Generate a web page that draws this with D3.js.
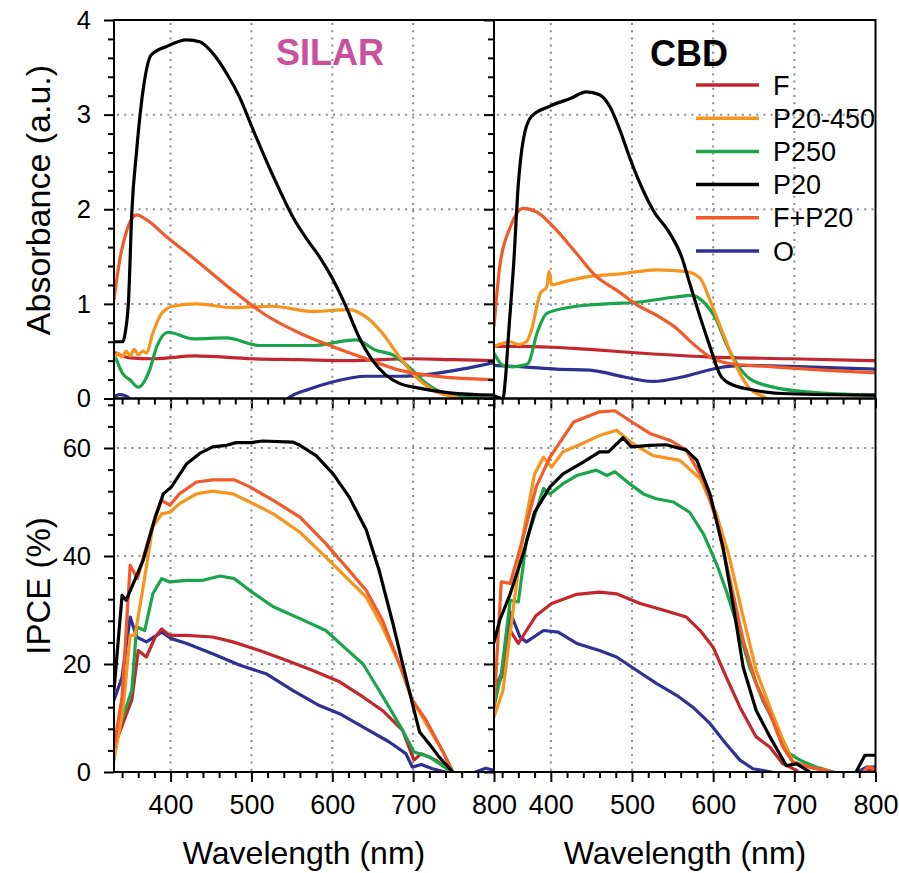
<!DOCTYPE html>
<html><head><meta charset="utf-8">
<script src="https://cdn.jsdelivr.net/npm/d3@7"></script>
<style>body{margin:0;background:#fff} svg{display:block} text{font-family:"Liberation Sans",Arial,Helvetica,sans-serif}</style>
</head><body><svg id="c" width="899" height="873"></svg>
<script>
// ---------- tick labels / categories ----------
const wavelengthTicks = [400, 500, 600, 700, 800];
const absorbanceTicks = [0, 1, 2, 3, 4];
const ipceTicks = [0, 20, 40, 60];
const seriesNames = ["F", "P20-450", "P250", "P20", "F+P20", "O"];
const panelTitles = ["SILAR", "CBD"];

// ---------- SILAR absorbance ----------
const absSilarF = [[330,0.49],[340,0.45],[350,0.43],[380,0.42],[430,0.45],[500,0.42],[560,0.41],[620,0.40],[700,0.42],[750,0.41],[800,0.40]];
const absSilarP20_450 = [[330,0.42],[335,0.48],[340,0.44],[345,0.50],[350,0.45],[355,0.52],[360,0.46],[366,0.50],[370,0.48],[378,0.69],[389,0.90],[403,0.975],[432,1.0],[477,0.96],[526,0.975],[576,0.92],[621,0.94],[642,0.86],[662,0.69],[683,0.44],[703,0.23],[724,0.09],[757,0.0],[780,-0.05],[800,-0.08]];
const absSilarP250 = [[330,0.48],[341,0.26],[350,0.195],[360,0.12],[374,0.30],[383,0.55],[397,0.70],[428,0.63],[469,0.64],[510,0.56],[576,0.56],[629,0.62],[654,0.51],[675,0.46],[695,0.33],[716,0.16],[740,0.05],[770,0.01],[800,0.0]];
const absSilarP20 = [[330,0.6],[341,0.6],[344,0.7],[348,1.04],[352,1.96],[358,2.62],[366,3.26],[376,3.63],[395,3.72],[420,3.79],[436,3.77],[452,3.65],[469,3.44],[485,3.19],[502,2.84],[518,2.52],[535,2.20],[551,1.92],[568,1.69],[584,1.50],[600,1.27],[617,0.97],[633,0.65],[650,0.40],[666,0.25],[683,0.16],[707,0.11],[745,0.06],[800,0.035]];
const absSilarFP20 = [[330,1.04],[337,1.46],[346,1.78],[358,1.94],[370,1.89],[395,1.71],[436,1.43],[477,1.14],[518,0.88],[560,0.69],[600,0.55],[642,0.42],[683,0.30],[724,0.24],[800,0.20]];
const absSilarO = [[330,0.02],[337,0.04],[344,0.03],[349,0.0],[355,-0.1],[540,-0.1],[545,0.0],[572,0.10],[600,0.175],[642,0.235],[683,0.235],[724,0.26],[760,0.31],[800,0.38]];

// ---------- CBD absorbance ----------
const absCbdF = [[330,0.55],[366,0.55],[428,0.53],[510,0.48],[592,0.44],[694,0.42],[800,0.40]];
const absCbdP20_450 = [[330,0.55],[340,0.58],[350,0.60],[360,0.57],[370,0.60],[376,0.72],[387,1.11],[395,1.18],[398,1.34],[401,1.20],[415,1.23],[448,1.29],[489,1.32],[530,1.36],[567,1.34],[584,1.27],[596,1.04],[612,0.69],[629,0.33],[645,0.105],[666,0.0],[680,-0.1],[800,-0.1]];
const absCbdP250 = [[330,0.48],[341,0.35],[354,0.335],[365,0.35],[372,0.37],[383,0.69],[395,0.90],[428,0.97],[469,1.0],[510,1.02],[551,1.07],[575,1.09],[588,1.02],[604,0.83],[616,0.58],[629,0.37],[645,0.21],[674,0.12],[715,0.07],[800,0.035]];
const absCbdP20 = [[330,0.03],[341,0.0],[344,0.2],[348,0.69],[354,1.39],[360,2.27],[366,2.73],[376,2.98],[399,3.09],[424,3.17],[444,3.24],[460,3.21],[473,3.08],[485,2.84],[497,2.55],[510,2.27],[526,1.99],[547,1.74],[561,1.50],[571,1.22],[584,0.86],[596,0.55],[608,0.26],[620,0.16],[649,0.09],[694,0.05],[800,0.035]];
const absCbdFP20 = [[330,0.76],[337,1.39],[350,1.81],[366,2.01],[383,1.97],[407,1.78],[432,1.53],[456,1.29],[481,1.145],[506,0.99],[530,0.88],[555,0.74],[575,0.58],[596,0.44],[620,0.37],[674,0.335],[735,0.30],[800,0.27]];
const absCbdO = [[330,0.35],[366,0.335],[407,0.31],[448,0.30],[489,0.23],[526,0.18],[563,0.23],[604,0.32],[637,0.35],[694,0.34],[800,0.31]];

// ---------- SILAR IPCE ----------
const ipceSilarF = [[330,4.6],[341,9],[352,13.3],[360,22.5],[370,21.3],[381,25],[389,26.5],[399,25.3],[420,25.3],[452,25],[477,24.1],[510,22.5],[543,20.7],[576,18.8],[609,16.7],[638,13.9],[662,11.4],[687,7.7],[701,2.2],[710,3.4],[728,2.2],[745,0.3],[750,-1]];
const ipceSilarP20_450 = [[330,2.2],[341,11.4],[350,25.3],[356,25.3],[364,32.4],[378,45.4],[389,47.8],[399,48.1],[411,49.7],[432,51.5],[452,52],[477,51.5],[498,50],[527,47.8],[560,44.4],[592,39.8],[621,35.5],[642,32.4],[662,26.9],[683,20],[699,13.3],[716,9],[736,4.0],[749,0],[752,-1]];
const ipceSilarP250 = [[330,5.2],[341,10.2],[352,15.1],[358,26.9],[368,26.2],[378,33],[389,35.8],[399,35.2],[420,35.5],[440,35.5],[461,36.3],[479,35.8],[498,33.6],[527,30.6],[560,28.4],[592,26.2],[617,22.8],[638,20],[658,15.1],[675,10.8],[687,7.7],[701,3.7],[720,2.8],[745,0.3],[750,-1]];
const ipceSilarP20 = [[330,15.1],[340,32.7],[345,31.8],[366,39.2],[381,47.2],[391,51.5],[401,52.8],[420,57.1],[436,59],[452,60.2],[469,60.5],[481,61],[500,61],[514,61.3],[551,61.1],[560,60.5],[580,58.6],[601,55.2],[621,50.9],[642,44.8],[658,37.3],[675,27.5],[687,20],[699,12.7],[708,7.4],[720,5.2],[732,2.8],[749,0],[752,-1]];
const ipceSilarFP20 = [[330,4.6],[340,13.9],[350,38.3],[359,35.8],[370,41.7],[381,47.2],[389,50.3],[399,49.4],[411,51.5],[432,53.7],[452,54.1],[479,54.1],[498,52.8],[527,50.3],[560,47.2],[592,42.3],[621,37.3],[642,33.6],[662,28.1],[683,20],[699,13.3],[716,9.6],[736,4.0],[749,0],[752,-1]];
const ipceSilarO = [[330,13.3],[340,17.6],[350,28.7],[358,25],[370,24.1],[389,25.9],[401,24.7],[420,23.8],[452,21.9],[485,19.8],[518,18.2],[551,15.1],[584,12.3],[609,10.8],[642,8.0],[670,5.6],[691,3.4],[699,0.9],[710,1.4],[724,0.6],[740,0],[745,-1],[772,-1],[777,0],[790,0.7],[800,0.3]];

// ---------- CBD IPCE ----------
const ipceCbdF = [[330,15.1],[341,18.8],[350,26.2],[360,23.8],[370,26.2],[382,29],[401,31.2],[432,32.9],[460,33.3],[481,33],[510,31.2],[534,30.2],[567,28.7],[584,26.2],[600,23.1],[616,17.6],[633,12],[653,6.5],[670,4.6],[686,1.5],[703,0.3],[708,-1],[780,-1],[788,0.5],[800,0.4]];
const ipceCbdP20_450 = [[330,10.2],[341,15.1],[354,30.6],[366,44.1],[380,55.2],[391,58.3],[401,56.5],[415,59.3],[434,60.5],[460,62.3],[481,63.3],[501,60.8],[526,58.6],[559,57.7],[584,54.3],[604,47.8],[620,39.8],[637,28.7],[653,18.8],[670,12],[686,5.9],[698,1.9],[720,0.8],[748,0],[752,-1]];
const ipceCbdP250 = [[330,12],[339,18.2],[350,31.8],[360,31.5],[370,42.9],[391,52.5],[399,51.5],[415,53.4],[432,54.9],[456,55.9],[469,54.9],[479,55.6],[497,53.4],[514,51.5],[530,50.6],[551,50],[571,48.1],[588,44.1],[604,38.6],[616,33.6],[629,27.5],[645,19.4],[661,13.3],[678,8.3],[694,3.4],[707,2.2],[727,0.9],[748,0],[752,-1]];
const ipceCbdP20 = [[330,24],[337,28.1],[350,33],[366,40.4],[380,48.1],[399,52.8],[415,55.2],[440,57.4],[460,59.3],[471,59.3],[489,61.9],[499,60.2],[522,60.5],[542,60.6],[567,59.6],[580,57.7],[596,51.5],[612,41.7],[625,30.6],[637,19.4],[653,11.4],[670,6.5],[690,1.2],[703,1.5],[719,0],[722,-1],[772,-1],[776,0],[787,3.1],[800,3.1]];
const ipceCbdFP20 = [[330,12],[339,35.2],[350,34.9],[366,43.5],[382,52.8],[399,58.3],[428,64.8],[460,66.7],[479,66.9],[497,65.1],[522,62.7],[547,61.4],[567,59.6],[588,54],[604,46.6],[620,36.1],[637,24.4],[653,16.4],[670,10.8],[686,4.6],[698,1.9],[719,0.9],[748,0],[752,-1],[780,-1],[790,0.9],[800,0.6]];
const ipceCbdO = [[330,14.5],[341,18.2],[350,29.6],[362,25],[370,24.1],[391,26.2],[409,25.9],[432,23.8],[460,22.5],[481,21.3],[506,18.8],[530,16.4],[555,14.2],[575,12],[596,9],[616,5.2],[633,2.2],[649,0.6],[672,0],[676,-1],[772,-1],[778,0],[789,0.9],[800,0.9]];

// ---------- styles ----------
const seriesColors = {"F":"#c1272d","P20-450":"#f7941d","P250":"#1aa54b","P20":"#000000","F+P20":"#f15a29","O":"#2e3192"};
const drawOrder = ["O","F","P250","P20-450","F+P20","P20"];

const panels = [
  {row:0, col:0, data:{"F":absSilarF,"P20-450":absSilarP20_450,"P250":absSilarP250,"P20":absSilarP20,"F+P20":absSilarFP20,"O":absSilarO}},
  {row:0, col:1, data:{"F":absCbdF,"P20-450":absCbdP20_450,"P250":absCbdP250,"P20":absCbdP20,"F+P20":absCbdFP20,"O":absCbdO}},
  {row:1, col:0, data:{"F":ipceSilarF,"P20-450":ipceSilarP20_450,"P250":ipceSilarP250,"P20":ipceSilarP20,"F+P20":ipceSilarFP20,"O":ipceSilarO}},
  {row:1, col:1, data:{"F":ipceCbdF,"P20-450":ipceCbdP20_450,"P250":ipceCbdP250,"P20":ipceCbdP20,"F+P20":ipceCbdFP20,"O":ipceCbdO}}
];

const colX = [[114, 494], [494, 875.5]];
const rows = [
  {domain:[0,4], range:[398.5,20], top:20, bottom:398.5, ticks:absorbanceTicks, minorStep:0.2, grid:[1,2,3], curve:d3.curveMonotoneX},
  {domain:[0,60], range:[772,448], top:398.5, bottom:772, ticks:ipceTicks, minorStep:4, grid:[20,40,60], curve:d3.curveLinear}
];

const svg = d3.select('#c');
const defs = svg.append('defs');

panels.forEach((p, i) => {
  const R = rows[p.row];
  const x = d3.scaleLinear().domain([330, 800]).range(colX[p.col]);
  const y = d3.scaleLinear().domain(R.domain).range(R.range);
  const x0 = colX[p.col][0], x1 = colX[p.col][1];
  const g = svg.append('g');

  defs.append('clipPath').attr('id', 'clip' + i).append('rect')
    .attr('x', x0).attr('y', R.top).attr('width', x1 - x0).attr('height', R.bottom - R.top);

  // grid
  const gridStyle = s => s.attr('stroke', '#8a8a8a').attr('stroke-width', 2).attr('stroke-dasharray', '2,5.2');
  g.selectAll('.gx').data(wavelengthTicks.filter(v => v < 800)).enter().append('line')
    .attr('x1', d => x(d)).attr('x2', d => x(d)).attr('y1', R.top + 3).attr('y2', R.bottom).call(gridStyle);
  g.selectAll('.gy').data(R.grid).enter().append('line')
    .attr('x1', x0 + 3).attr('x2', x1).attr('y1', d => y(d)).attr('y2', d => y(d)).call(gridStyle);

  // series
  const line = d3.line().x(d => x(d[0])).y(d => y(d[1])).curve(R.curve);
  const lg = g.append('g').attr('clip-path', `url(#clip${i})`);
  drawOrder.forEach(name => {
    lg.append('path').datum(p.data[name]).attr('d', line)
      .attr('fill', 'none').attr('stroke', seriesColors[name]).attr('stroke-width', 3.2)
      .attr('stroke-linejoin', 'round').attr('stroke-linecap', 'round');
  });

  // frame
  g.append('rect').attr('x', x0).attr('y', R.top).attr('width', x1 - x0).attr('height', R.bottom - R.top)
    .attr('fill', 'none').attr('stroke', '#000').attr('stroke-width', 2);

  // x ticks
  const minorX = d3.range(340, 800, 20).filter(v => v % 100 !== 0);
  const ax = g.append('g').attr('transform', `translate(0,${R.bottom})`);
  ax.call(d3.axisBottom(x).tickValues(minorX).tickSize(6).tickFormat(''));
  const axM = g.append('g').attr('transform', `translate(0,${R.bottom})`);
  axM.call(d3.axisBottom(x).tickValues(wavelengthTicks).tickSize(10).tickPadding(13)
    .tickFormat(p.row === 1 ? d3.format('d') : ''));

  // y ticks
  const minorY = d3.range(R.domain[0], R.domain[1] + 1e-9 + (p.row === 1 ? 8 : 0), R.minorStep)
    .map(v => +v.toFixed(2)).filter(v => !R.ticks.includes(v) && y(v) >= R.top - 0.5);
  const ay = g.append('g').attr('transform', `translate(${x0},0)`);
  ay.call(d3.axisLeft(y).tickValues(minorY).tickSize(6).tickFormat(''));
  const ayM = g.append('g').attr('transform', `translate(${x0},0)`);
  ayM.call(d3.axisLeft(y).tickValues(R.ticks).tickSize(10).tickPadding(13)
    .tickFormat(p.col === 0 ? d3.format('d') : ''));

  [ax, axM, ay, ayM].forEach(a => {
    a.select('.domain').remove();
    a.selectAll('line').attr('stroke', '#000').attr('stroke-width', 2);
    a.selectAll('text').attr('fill', '#000').style('font-family', '"Liberation Sans",Arial,sans-serif');
  });
  axM.selectAll('text').attr('font-size', 27);
  ayM.selectAll('text').attr('font-size', 25.5);
});

// axis titles
svg.append('text').attr('transform', 'translate(50,200) rotate(-90)').attr('text-anchor', 'middle')
  .attr('font-size', 34).text('Absorbance (a.u.)');
svg.append('text').attr('transform', 'translate(50,586) rotate(-90)').attr('text-anchor', 'middle')
  .attr('font-size', 33).text('IPCE (%)');
[304, 685].forEach(cx => {
  svg.append('text').attr('x', cx).attr('y', 864).attr('text-anchor', 'middle')
    .attr('font-size', 32).text('Wavelength (nm)');
});

// panel titles
svg.append('text').attr('x', 330).attr('y', 65).attr('text-anchor', 'middle')
  .attr('font-size', 36).attr('font-weight', 'bold').attr('fill', '#c9509d').text(panelTitles[0]);
svg.append('text').attr('x', 689).attr('y', 66).attr('text-anchor', 'middle')
  .attr('font-size', 36).attr('font-weight', 'bold').attr('fill', '#000').text(panelTitles[1]);

// legend
const leg = svg.append('g');
seriesNames.forEach((name, i) => {
  const yy = 85 + i * 33.2;
  leg.append('line').attr('x1', 696).attr('x2', 759).attr('y1', yy).attr('y2', yy)
    .attr('stroke', seriesColors[name]).attr('stroke-width', 3.5);
  leg.append('text').attr('x', 773).attr('y', yy + 9.5).attr('font-size', 27).text(name);
});
</script></body></html>
